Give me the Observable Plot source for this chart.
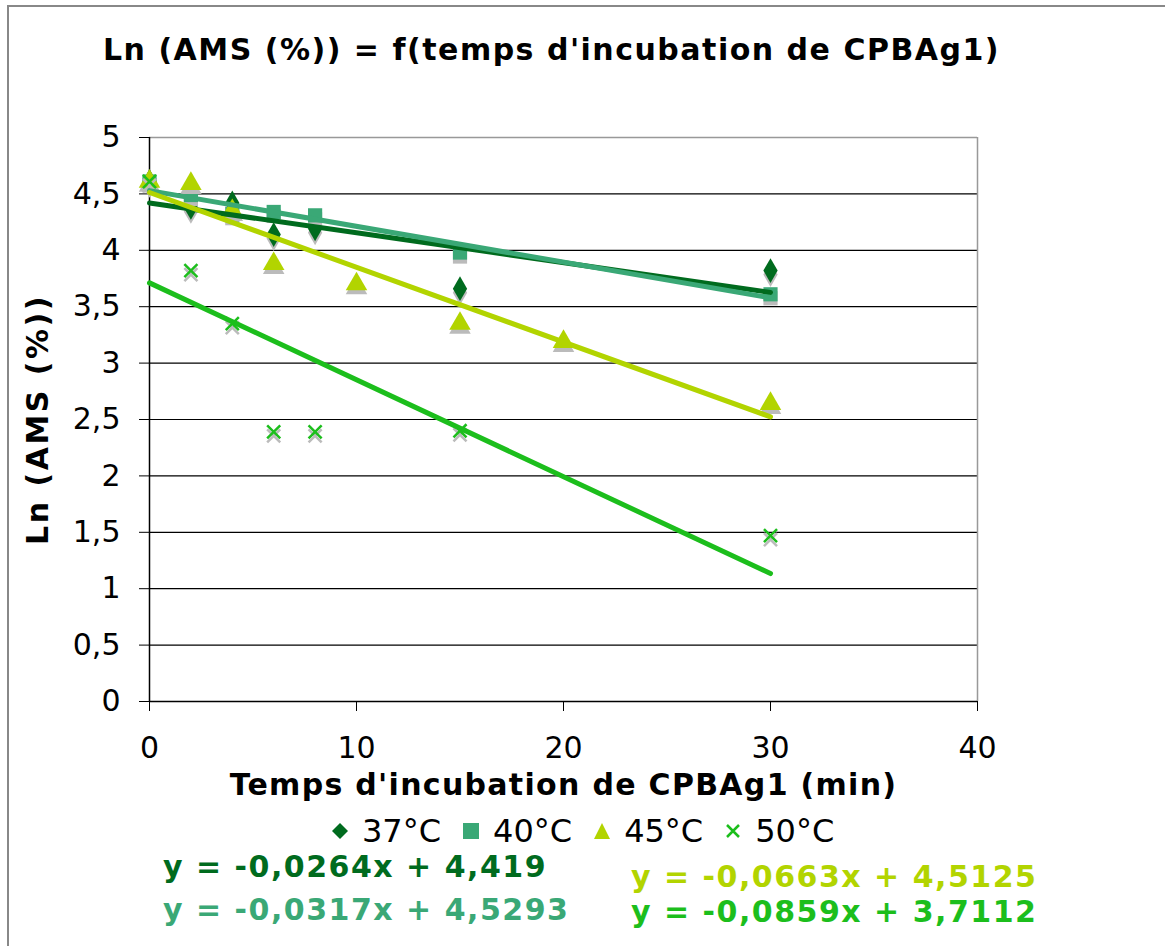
<!DOCTYPE html>
<html><head><meta charset="utf-8">
<script src="https://cdn.jsdelivr.net/npm/d3@7"></script>
<script src="https://cdn.jsdelivr.net/npm/@observablehq/plot@0.6"></script>
<style>
body{margin:0;background:#fff;font-family:"DejaVu Sans",Verdana,sans-serif;}
#wrap{position:relative;width:1165px;height:946px;overflow:hidden;}
#border{position:absolute;left:7px;top:5px;width:1170px;height:960px;border:2px solid #888;box-sizing:border-box;}
#title{position:absolute;left:0;width:1103px;top:32px;text-align:center;font-weight:bold;font-size:30px;letter-spacing:1.5px;line-height:35px;}
#chart{position:absolute;left:0;top:0;}
#legend{position:absolute;left:332px;top:812px;height:38px;font-size:32px;line-height:38px;white-space:nowrap;display:flex;align-items:center;}
#legend svg{margin-right:14px;}
#legend span.i{margin-right:22px;}
.eq{position:absolute;font-weight:bold;font-size:30px;line-height:35px;letter-spacing:1.5px;white-space:nowrap;}
</style></head>
<body>
<div id="wrap">
<div id="border"></div>
<div id="chart"></div>
<div id="title"></div>
<div id="legend"></div>
</div>
<script>
const titleText = "Ln (AMS (%)) = f(temps d'incubation de CPBAg1)";
const xLabel = "Temps d'incubation de CPBAg1 (min)";
const yLabel = "Ln (AMS (%))";
const seriesNames = ["37°C", "40°C", "45°C", "50°C"];
const seriesColors = ["#006B1E", "#3AA876", "#B2D400", "#1CBE1C"];
const seriesSymbols = ["diamond", "square", "triangle", "times"];

const time37 = [0, 2, 4, 6, 8, 15, 30];
const ams37 = [4.61, 4.38, 4.42, 4.14, 4.19, 3.66, 3.82];
const time40 = [0, 2, 4, 6, 8, 15, 30];
const ams40 = [4.61, 4.49, 4.32, 4.34, 4.31, 3.98, 3.61];
const time45 = [0, 2, 4, 6, 10, 15, 20, 30];
const ams45 = [4.61, 4.59, 4.35, 3.88, 3.70, 3.35, 3.19, 2.64];
const time50 = [0, 2, 4, 6, 8, 15, 30];
const ams50 = [4.61, 3.82, 3.35, 2.39, 2.39, 2.40, 1.47];

const slopes = [-0.0264, -0.0317, -0.0663, -0.0859];
const intercepts = [4.419, 4.5293, 4.5125, 3.7112];
const equations = ["y = -0,0264x + 4,419", "y = -0,0317x + 4,5293", "y = -0,0663x + 4,5125", "y = -0,0859x + 3,7112"];
const trendRange = [0, 30];

const xTicks = [0, 10, 20, 30, 40];
const yTicks = [0, 0.5, 1, 1.5, 2, 2.5, 3, 3.5, 4, 4.5, 5];

const times = [time37, time40, time45, time50];
const amss = [ams37, ams40, ams45, ams50];
const points = [];
times.forEach((t, s) => t.forEach((x, i) => points.push({s, x, y: amss[s][i]})));
const trends = [];
slopes.forEach((m, s) => trendRange.forEach(x => trends.push({s, x, y: intercepts[s] + m * x})));

const fmt = d => String(d).replace(".", ",");
const sizes = [7.5, 8, 8, 6];

const markMarks = [];
[0,1,2,3].forEach(s => {
  const data = points.filter(p => p.s === s);
  const sym = seriesSymbols[s];
  if (sym === "times") {
    markMarks.push(Plot.dot(data, {x: "x", y: "y", symbol: "times", r: sizes[s], stroke: "#bbb", strokeWidth: 2.5, dy: 4}));
    markMarks.push(Plot.dot(data, {x: "x", y: "y", symbol: "times", r: sizes[s], stroke: seriesColors[s], strokeWidth: 2.5}));
  } else {
    markMarks.push(Plot.dot(data, {x: "x", y: "y", symbol: sym, r: sizes[s], fill: "#bbb", stroke: "none", dy: 4}));
    markMarks.push(Plot.dot(data, {x: "x", y: "y", symbol: sym, r: sizes[s], fill: seriesColors[s], stroke: "none"}));
  }
});

const chart = Plot.plot({
  width: 1165,
  height: 810,
  marginLeft: 149,
  marginRight: 188,
  marginTop: 137,
  marginBottom: 109,
  style: {fontFamily: "'DejaVu Sans', Verdana, sans-serif", background: "transparent", color: "#000"},
  x: {domain: [0, 40], ticks: xTicks, label: null},
  y: {domain: [0, 5], ticks: yTicks, label: null},
  marks: [
    Plot.ruleY(yTicks.filter(v => v > 0 && v < 5), {stroke: "#000", strokeWidth: 1.2}),
    Plot.ruleY([5], {stroke: "#999", strokeWidth: 1.5}),
    Plot.ruleX([40], {stroke: "#999", strokeWidth: 1.5}),
    Plot.ruleY([0], {stroke: "#000", strokeWidth: 1.5}),
    Plot.ruleX([0], {stroke: "#000", strokeWidth: 1.5}),
    Plot.axisY({ticks: yTicks, tickFormat: fmt, tickSize: 10, tickPadding: 19, fontSize: 30, stroke: "#000", label: null}),
    Plot.axisX({ticks: xTicks, tickFormat: fmt, tickSize: 10, tickPadding: 25, fontSize: 30, stroke: "#000", label: null}),
    ...markMarks,
    Plot.line(trends, {x: "x", y: "y", z: "s", stroke: d => seriesColors[d.s], strokeWidth: 5}),
    Plot.text([xLabel], {frameAnchor: "bottom", dy: 93, fontSize: 30, fontWeight: "bold", text: d => d}),
    Plot.text([yLabel], {frameAnchor: "left", textAnchor: "middle", dx: -111, rotate: -90, fontSize: 30, fontWeight: "bold", text: d => d})
  ]
});
d3.select(chart).selectAll("text").each(function() {
  const t = this.textContent;
  if (t === xLabel) this.style.letterSpacing = "1.3px";
  if (t === yLabel) this.style.letterSpacing = "2.5px";
});
document.getElementById("chart").appendChild(chart);
document.getElementById("title").textContent = titleText;

const legendShapes = [
  '<polygon points="8,0 16,8 8,16 0,8"/>',
  '<rect x="0" y="0" width="16" height="16"/>',
  '<polygon points="8,0 16,16 0,16"/>',
  '<path d="M2,2 L14,14 M14,2 L2,14" stroke-width="2.5" fill="none"/>'
];
const leg = document.getElementById("legend");
seriesNames.forEach((n, i) => {
  const svgNS = "http://www.w3.org/2000/svg";
  const m = document.createElementNS(svgNS, "svg");
  m.setAttribute("width", 16); m.setAttribute("height", 16);
  m.setAttribute("fill", seriesColors[i]); m.setAttribute("stroke", i === 3 ? seriesColors[i] : "none");
  m.innerHTML = legendShapes[i];
  const t = document.createElement("span"); t.className = "i"; t.textContent = n;
  leg.appendChild(m); leg.appendChild(t);
});
const eqPos = [[163, 849], [163, 892], [631, 859], [631, 894]];
equations.forEach((e, i) => {
  const d = document.createElement("div"); d.className = "eq";
  d.style.left = eqPos[i][0] + "px"; d.style.top = eqPos[i][1] + "px"; d.style.color = seriesColors[i];
  d.textContent = e;
  document.getElementById("wrap").appendChild(d);
});
</script>
</body></html>
